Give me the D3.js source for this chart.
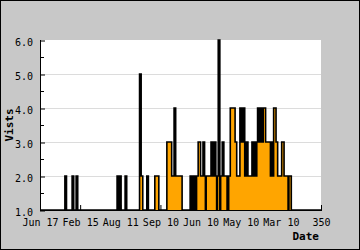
<!DOCTYPE html>
<html>
<head>
<meta charset="utf-8">
<script src="https://cdn.jsdelivr.net/npm/d3@7"></script>
<style>
body{margin:0;background:#fff;}
svg{display:block;}
text{font-family:"DejaVu Sans Mono",monospace;fill:#000;}
.tick text{font-size:10px;}
.label{font-size:11px;font-weight:bold;}
</style>
</head>
<body>
<div id="chart"></div>
<script>
// visits per day, day 0 .. 350 (rows of 25 days)
let visits=[
1,1,1,1,1,1,1,1,1,1,1,1,1,1,1,1,1,1,1,1,1,1,1,1,1,
1,1,1,1,1,1,2,2,1,1,1,1,1,1,1,2,2,1,1,1,2,2,1,1,1,
1,1,1,1,1,1,1,1,1,1,1,1,1,1,1,1,1,1,1,1,1,1,1,1,1,
1,1,1,1,1,1,1,1,1,1,1,1,1,1,1,1,1,1,1,1,1,2,2,1,2,
2,1,1,1,1,1,2,2,1,1,1,1,1,1,1,1,1,1,1,1,1,1,1,1,5,
5,2,2,1,1,1,1,1,2,2,1,1,1,1,1,1,1,1,2,2,2,2,2,1,1,
1,1,1,1,1,1,1,1,3,3,3,3,3,3,2,2,2,4,4,2,2,2,2,2,2,
2,2,1,1,1,1,1,1,1,1,1,1,2,2,1,1,2,2,1,1,2,2,3,3,3,
2,2,2,3,3,2,1,2,2,2,2,2,2,3,3,2,2,3,3,2,1,2,6,6,1,
2,2,3,3,2,2,2,2,1,1,2,2,4,4,4,4,4,4,3,3,2,2,2,2,4,
4,3,3,4,4,2,2,3,3,2,2,2,2,2,3,3,2,3,3,2,3,4,4,3,4,
4,3,3,4,4,4,3,3,3,3,3,3,2,3,3,2,4,4,4,3,3,2,2,2,2,
2,3,3,3,2,2,2,2,2,1,2,2,2,1,1,1,1,1,1,1,1,1,1,1,1,
1,1,1,1,1,1,1,1,1,1,1,1,1,1,1,1,1,1,1,1,1,1,1,1,1,
1
];
let xTicks=[0,50,100,150,200,250,300,350];
let xTickLabels=["Jun 17","Feb 15","Aug 11","Sep 10","Jun 10","May 10","Mar 10","350"];
let yTicks=[1,2,3,4,5,6];
let yMinor=[1.5,2.5,3.5,4.5,5.5];

let width=360, height=250;
let padLeft=40, padTop=40, plotRight=321, plotBottom=210;

let svg=d3.select("#chart").append("svg")
.attr("width",width).attr("height",height);

svg.append("rect")
.attr("x",0.5).attr("y",0.5).attr("width",width-1).attr("height",height-1)
.attr("fill","#c8c8c8").attr("stroke","#000");

svg.append("rect")
.attr("x",padLeft).attr("y",padTop).attr("width",plotRight-padLeft).attr("height",plotBottom-padTop)
.attr("fill","#fff");

let x=d3.scaleLinear().domain([0,350]).range([padLeft,plotRight]);
let y=d3.scaleLinear().domain([1,6]).range([plotBottom,padTop]);

// grid
svg.append("g").selectAll("line")
.data(yTicks.slice(1,-1))
.enter().append("line")
.attr("x1",padLeft).attr("x2",plotRight)
.attr("y1",d=>y(d)+0.5).attr("y2",d=>y(d)+0.5)
.attr("stroke","#dcdcdc");

// y axis
let yAxis=svg.append("g")
.attr("transform","translate("+padLeft+",0.5)")
.call(d3.axisLeft(y).tickValues(yTicks).tickSize(-5).tickFormat(d3.format(".1f")));
yAxis.select(".domain").remove();
yAxis.selectAll(".tick line").attr("stroke","#000");
yAxis.selectAll(".tick text").attr("x",-7).attr("dy","0.5em");
svg.append("g").selectAll("line")
.data(yMinor)
.enter().append("line")
.attr("x1",padLeft).attr("x2",padLeft+4)
.attr("y1",d=>Math.round(y(d))+0.5).attr("y2",d=>Math.round(y(d))+0.5)
.attr("stroke","#000");

// x axis
let xAxis=svg.append("g")
.attr("transform","translate(0,"+plotBottom+")")
.call(d3.axisBottom(x).tickValues(xTicks).tickSize(-5).tickFormat((d,i)=>xTickLabels[i]));
xAxis.select(".domain").remove();
xAxis.selectAll(".tick line").attr("stroke","#000");
xAxis.selectAll(".tick text").attr("y",15.5).attr("dy",0);

// data
let pts=visits.map((v,i)=>({day:i,v:v}));
let area=d3.area()
.x(d=>x(d.day)).y0(y(1)).y1(d=>y(d.v))
.curve(d3.curveStepAfter);
let line=d3.line()
.x(d=>x(d.day)).y(d=>y(d.v))
.curve(d3.curveStepAfter);

svg.append("path").datum(pts)
.attr("d",area).attr("fill","#ffa500");
svg.append("path").datum(pts)
.attr("d",line).attr("fill","none").attr("stroke","#000").attr("stroke-width",1.6);

// axis lines
svg.append("line").attr("x1",padLeft+0.5).attr("x2",padLeft+0.5).attr("y1",padTop).attr("y2",plotBottom+1).attr("stroke","#000");
svg.append("line").attr("x1",padLeft).attr("x2",plotRight+1).attr("y1",plotBottom+0.5).attr("y2",plotBottom+0.5).attr("stroke","#000");

// titles
svg.append("text").text("Vists")
.attr("class","label")
.attr("text-anchor","middle")
.attr("transform","translate(13,"+((padTop+plotBottom)/2)+") rotate(-90)");
svg.append("text").text("Date")
.attr("class","label")
.attr("text-anchor","end")
.attr("x",319).attr("y",240);
</script>
</body>
</html>
